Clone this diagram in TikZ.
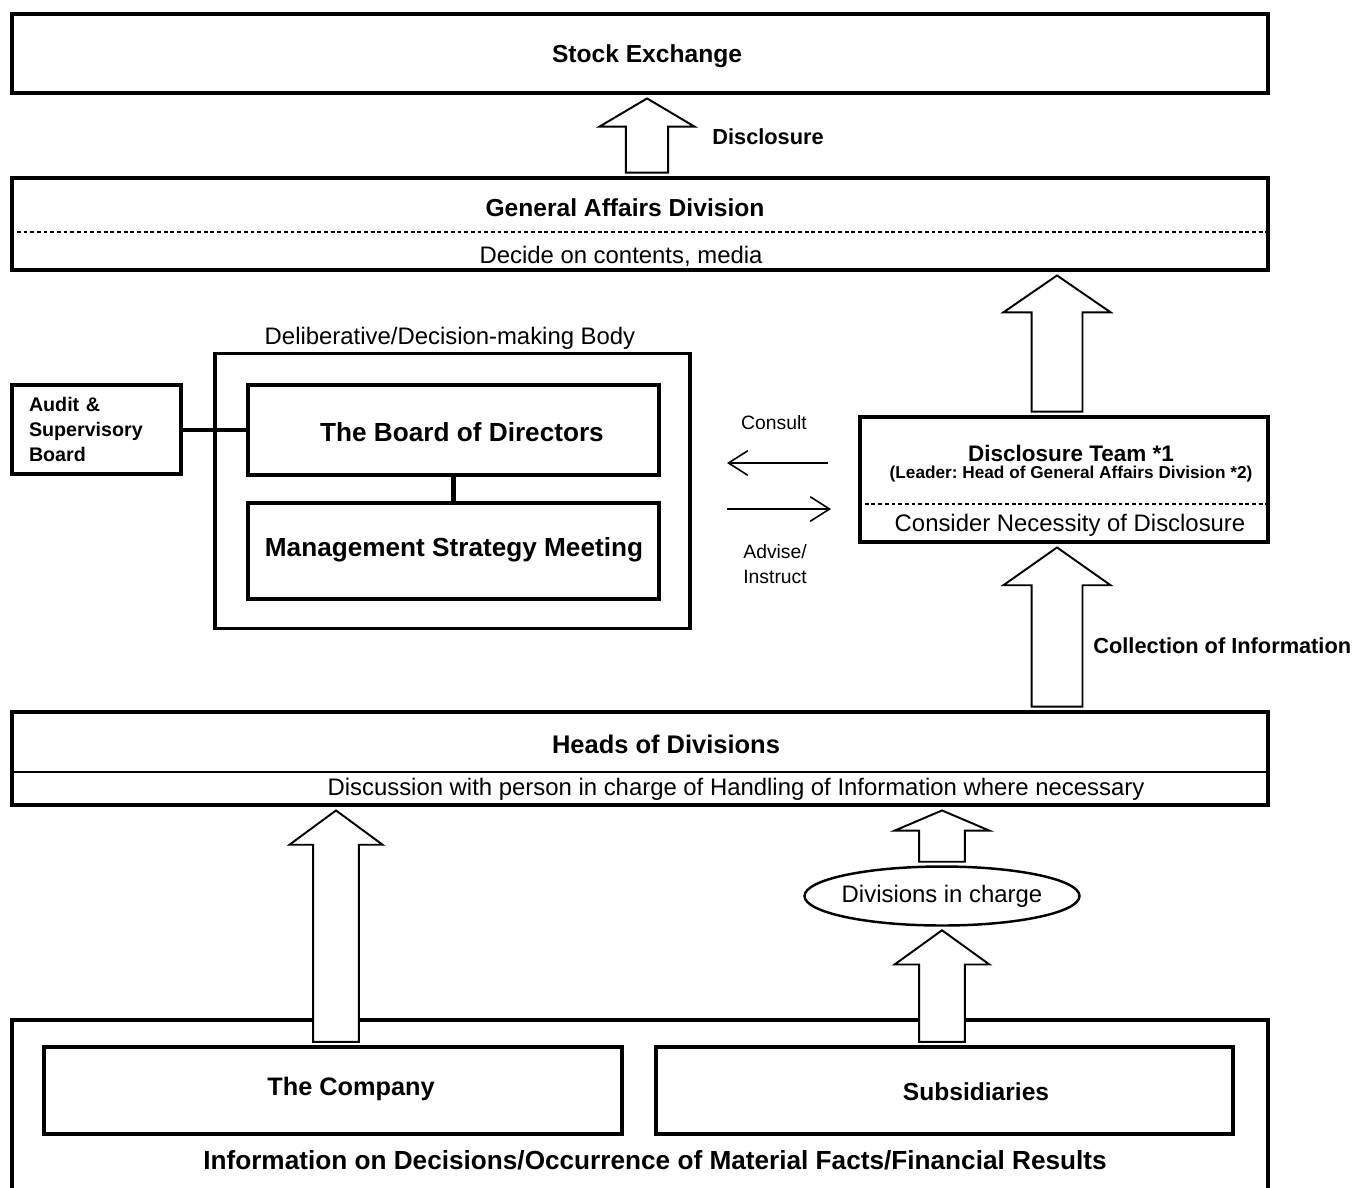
\documentclass[tikz,border=0pt]{standalone}
\usepackage{fontspec}
\setmainfont{Liberation Sans}
\frenchspacing
\usetikzlibrary{shapes,arrows.meta,calc,positioning}

% hollow block arrow: column, from node, to node, shaft half width, head half width, head length
\newcommand{\bigarrow}[6]{%
	\draw [Block] let \p1 = (#1 |- #2.north), \p2 = (#1 |- #3.south) in
		(\x1-#4, \y1+2pt) -- (\x1-#4, \y2-2pt-#6) -- (\x1-#5, \y2-2pt-#6) -- (\x1, \y2-2pt)
		-- (\x1+#5, \y2-2pt-#6) -- (\x1+#4, \y2-2pt-#6) -- (\x1+#4, \y1+2pt) -- cycle;}

\begin{document}
\begin{tikzpicture}[x=0.02cm, y=-0.02cm]
		\tikzstyle{Box}		= [draw, rectangle, line width=2.2pt, inner sep=0pt]
		\tikzstyle{Title}	= [font=\bfseries\fontsize{14}{16}\selectfont, inner sep=0pt]
		\tikzstyle{BigTitle}	= [font=\bfseries\fontsize{14.9}{17}\selectfont, inner sep=0pt]
		\tikzstyle{Plain}	= [font=\fontsize{13.6}{15}\selectfont, inner sep=0pt]
		\tikzstyle{Small}	= [font=\bfseries\fontsize{12.4}{14}\selectfont, inner sep=0pt]
		\tikzstyle{Note}	= [font=\fontsize{11}{14.2}\selectfont, inner sep=0pt, align=left]
		\tikzstyle{Sep}		= [line width=1.1pt, dash pattern=on 2.2pt off 1.6pt]
		\tikzstyle{Link}	= [line width=2.8pt]
		\tikzstyle{Thin}	= [line width=0.9pt, -{Straight Barb[length=11pt, width=14pt]}]
		\tikzstyle{Block}	= [draw, line width=1.1pt, fill=white, line join=miter]

		\useasboundingbox (0,0) rectangle (1354,1187);

		% top
		\node (se) at (640,53.5) [Box, minimum width=25.12cm, minimum height=1.58cm] {};
		\node (setitle) at (647,56) [Title] {Stock Exchange};
		\node (ga) at (640,224) [Box, minimum width=25.12cm, minimum height=1.84cm] {};
		\node (gatitle) at (625,208) [Title] {General Affairs Division};
		\node (gasub) at (621,256) [Plain] {Decide on contents, media};
		\draw [Sep] ([yshift=-0.16cm]ga.west) -- ([yshift=-0.16cm]ga.east);
		\node (disclab) at (712,137) [Small, anchor=west] {Disclosure};

		% deliberative body
		\node (audit) at (96.5,429.5) [Box, minimum width=3.38cm, minimum height=1.78cm, text width=2.7cm, align=left, font=\bfseries\fontsize{11.2}{14.2}\selectfont] {Audit \&\\Supervisory\\Board};
		\node (delib) at (452.5,491) [Box, minimum width=9.5cm, minimum height=5.5cm] {};
		\node (delibcap) at (450,338) [Plain] {Deliberative/Decision-making Body};
		\node (bod) at (453.5,430) [Box, minimum width=8.22cm, minimum height=1.8cm] {};
		\node (bodtitle) at (462,432) [BigTitle] {The Board of Directors};
		\node (msm) at (453.5,551) [Box, minimum width=8.22cm, minimum height=1.92cm] {};
		\node (msmtitle) at (454,550) [BigTitle] {Management Strategy Meeting};
		\draw [Link] (audit.east |- bod.west) -- (bod.west);
		\draw [Link] (bod.south) -- (msm.north);

		% disclosure team
		\node (team) at (1064,479.5) [Box, minimum width=8.16cm, minimum height=2.5cm] {};
		\node (teamtitle) at (1071,453) [Small, font=\bfseries\fontsize{12.8}{14}\selectfont] {Disclosure Team *1};
		\node (leader) at (1071,474) [font=\bfseries\fontsize{9.8}{11}\selectfont, inner sep=0pt] {(Leader: Head of General Affairs Division *2)};
		\node (teamsub) at (1070,525) [Plain] {Consider Necessity of Disclosure};
		\draw [Sep] ([yshift=-0.49cm]team.west) -- ([yshift=-0.49cm]team.east);

		\coordinate (cfrom) at (828,463);
		\coordinate (cto) at (727,463);
		\coordinate (afrom) at (727,509);
		\coordinate (ato) at (831,509);
		\draw [Thin] (cfrom) -- (cto);
		\draw [Thin] (afrom) -- (ato);
		\node (consultlab) at (774,423) [Note] {Consult};
		\node (adviselab) at (743,564) [Note, anchor=west] {Advise/\\Instruct};
		\node (collab) at (1093,646) [Small, anchor=west] {Collection of Information};

		% heads of divisions
		\node (heads) at (640,758.5) [Box, minimum width=25.12cm, minimum height=1.86cm] {};
		\node (headstitle) at (666,744) [Title, font=\bfseries\fontsize{14.5}{16}\selectfont] {Heads of Divisions};
		\node (headssub) at (736,789) [Plain] {Discussion with person in charge of Handling of Information where necessary};
		\draw [line width=1.4pt] ([yshift=-0.27cm]heads.west) -- ([yshift=-0.27cm]heads.east);

		\node (divs) at (942,896) [ellipse, draw, line width=1.4pt, minimum width=5.5cm, minimum height=1.18cm, inner sep=-3pt, font=\fontsize{13.6}{15}\selectfont] {Divisions in charge};

		% sources
		\node (info) at (640,1110) [Box, minimum width=25.12cm, minimum height=3.6cm] {};
		\node (infotitle) at (655,1160) [BigTitle] {Information on Decisions/Occurrence of Material Facts/Financial Results};
		\node (company) at (333,1090.5) [Box, line width=1.8pt, minimum width=11.56cm, minimum height=1.74cm] {};
		\node (companytitle) at (351,1089) [Title, font=\bfseries\fontsize{14.4}{16}\selectfont] {The Company};
		\node (subs) at (944.5,1090.5) [Box, line width=1.8pt, minimum width=11.54cm, minimum height=1.74cm] {};
		\node (substitle) at (976,1092) [Title] {Subsidiaries};

		% block arrows
		\coordinate (xdisc) at (647,0);
		\coordinate (xteam) at (1057,0);
		\coordinate (xcomp) at (336,0);
		\coordinate (xdivs) at (942,0);
		\bigarrow{xdisc}{ga}{se}{12pt}{27pt}{16pt}
		\bigarrow{xteam}{team}{ga}{14.5pt}{30.5pt}{21pt}
		\bigarrow{xteam}{heads}{team}{14.5pt}{30.5pt}{21.5pt}
		\bigarrow{xcomp}{company}{heads}{13pt}{26.5pt}{19.5pt}
		\bigarrow{xdivs}{divs}{heads}{13pt}{27pt}{11.5pt}
		\bigarrow{xdivs}{subs}{divs}{13pt}{27pt}{19.5pt}
	\end{tikzpicture}
\end{document}
